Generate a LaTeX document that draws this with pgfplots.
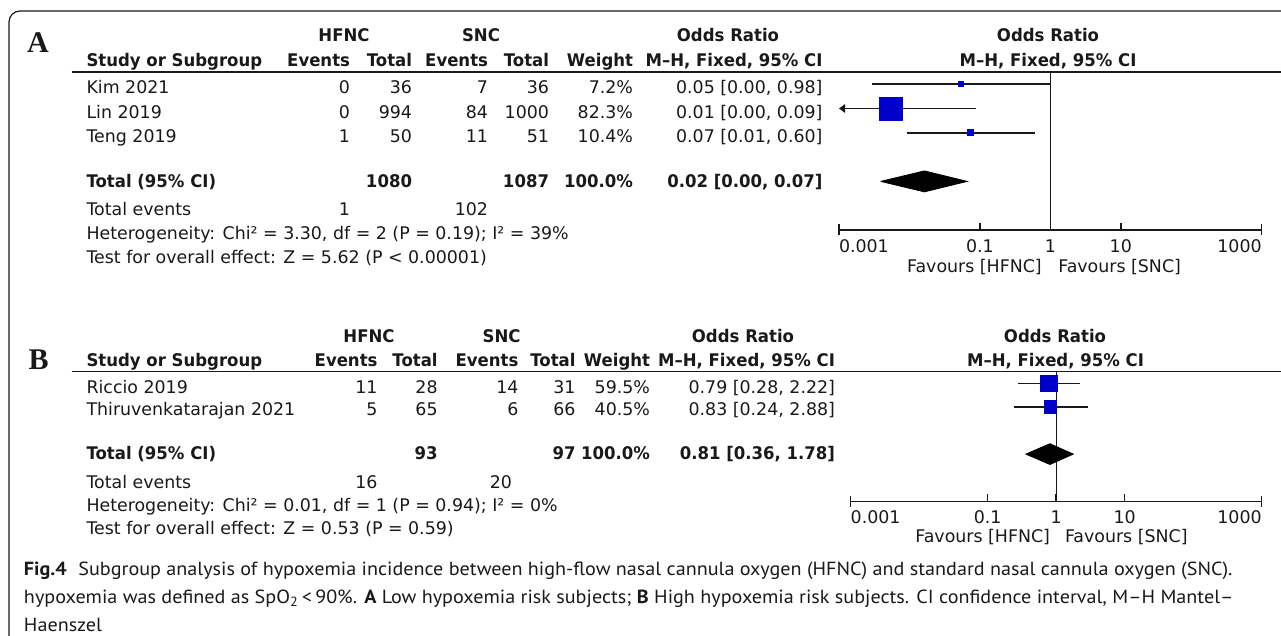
\documentclass[border=0pt]{standalone}
\usepackage{pgfplots}
\pgfplotsset{compat=1.18}
\usetikzlibrary{arrows.meta}
\usepackage{fontspec}
\setmainfont{DejaVu Sans}[BoldFeatures={FakeStretch=0.95}]
\newfontfamily\serifb{Liberation Serif}
\newfontfamily\capfont{PT Sans}[FakeStretch=1.06]
\definecolor{sqblue}{RGB}{0,0,200}
\definecolor{ink}{RGB}{25,25,25}
\newcommand\tf{\fontsize{8.7pt}{10pt}\selectfont}
\newcommand\TL[3]{\node[anchor=base west] at (#1,#2) {#3};}
\newcommand\TR[3]{\node[anchor=base east] at (#1,#2) {#3};}
\newcommand\TC[3]{\node[anchor=base] at (#1,#2) {#3};}
\tikzset{ci/.style={ink, line width=0.75pt},
  sq/.style={only marks, mark=square*, mark options={draw=sqblue, fill=sqblue}}}
\begin{document}
\begin{tikzpicture}[font=\tf, every node/.style={inner sep=0pt, outer sep=0pt}, text=ink]
\path[use as bounding box] (0,0) rectangle (640.5pt,-318pt);
\clip (0,0) rectangle (640.5pt,-318pt);
\begin{scope}[x=0.5pt,y=-0.5pt]
\draw[ink, line width=0.6pt, rounded corners=5.5pt] (9,700) -- (9,11) -- (1300,11);
% ---------- Panel A ----------
\node[anchor=base west, font={\serifb\bfseries\fontsize{15pt}{15pt}\selectfont}] at (27,53) {A};
\TC{344}{41.5}{\bfseries HFNC}
\TC{481}{41.5}{\bfseries SNC}
\TC{728}{41.5}{\bfseries Odds Ratio}
\TC{1048}{41.5}{\bfseries Odds Ratio}
\TL{86.5}{66.3}{\bfseries Study or Subgroup}
\TR{350}{66.3}{\bfseries Events}
\TR{412}{66.3}{\bfseries Total}
\TR{488}{66.3}{\bfseries Events}
\TR{549}{66.3}{\bfseries Total}
\TR{633}{66.3}{\bfseries Weight}
\TR{822.5}{66.3}{\bfseries M–H, Fixed, 95\% CI}
\TC{1048}{66.3}{\bfseries M–H, Fixed, 95\% CI}
\draw[ink, line width=0.75pt] (71.5,72) -- (1300,72);
\TL{86.5}{94}{Kim 2021}\TR{350}{94}{0}\TR{412}{94}{36}\TR{488}{94}{7}\TR{549}{94}{36}\TR{633}{94}{7.2\%}\TR{822.5}{94}{0.05 [0.00, 0.98]}
\TL{86.5}{118.3}{Lin 2019}\TR{350}{118.3}{0}\TR{412}{118.3}{994}\TR{488}{118.3}{84}\TR{549}{118.3}{1000}\TR{633}{118.3}{82.3\%}\TR{822.5}{118.3}{0.01 [0.00, 0.09]}
\TL{86.5}{142.5}{Teng 2019}\TR{350}{142.5}{1}\TR{412}{142.5}{50}\TR{488}{142.5}{11}\TR{549}{142.5}{51}\TR{633}{142.5}{10.4\%}\TR{822.5}{142.5}{0.07 [0.01, 0.60]}
\TL{86.5}{188}{\bfseries Total (95\% CI)}\TR{412}{188}{\bfseries 1080}\TR{549}{188}{\bfseries 1087}\TR{633}{188}{\bfseries 100.0\%}\TR{822.5}{188}{\bfseries 0.02 [0.00, 0.07]}
\TL{86.5}{215.3}{Total events}\TR{350}{215.3}{1}\TR{488}{215.3}{102}
\TL{86.5}{239.5}{Heterogeneity: Chi² = 3.30, df = 2 (P = 0.19); I² = 39\%}
\TL{86.5}{264}{Test for overall effect: Z = 5.62 (P < 0.00001)}
% ---------- Panel B ----------
\node[anchor=base west, font={\serifb\bfseries\fontsize{15pt}{15pt}\selectfont}] at (28.6,370) {B};
\TC{369}{343}{\bfseries HFNC}
\TC{501.6}{343}{\bfseries SNC}
\TC{743}{343}{\bfseries Odds Ratio}
\TC{1055}{343}{\bfseries Odds Ratio}
\TL{86.5}{366.3}{\bfseries Study or Subgroup}
\TR{377.5}{366.3}{\bfseries Events}
\TR{437.6}{366.3}{\bfseries Total}
\TR{518.4}{366.3}{\bfseries Events}
\TR{575.5}{366.3}{\bfseries Total}
\TR{650}{366.3}{\bfseries Weight}
\TR{835}{366.3}{\bfseries M–H, Fixed, 95\% CI}
\TC{1055.5}{366.3}{\bfseries M–H, Fixed, 95\% CI}
\draw[ink, line width=0.75pt] (71.5,371.5) -- (1300,371.5);
\TL{86.5}{393.3}{Riccio 2019}\TR{377.5}{393.3}{11}\TR{437.6}{393.3}{28}\TR{518.4}{393.3}{14}\TR{575.5}{393.3}{31}\TR{650}{393.3}{59.5\%}\TR{835}{393.3}{0.79 [0.28, 2.22]}
\TL{86.5}{415.8}{Thiruvenkatarajan 2021}\TR{377.5}{415.8}{5}\TR{437.6}{415.8}{65}\TR{518.4}{415.8}{6}\TR{575.5}{415.8}{66}\TR{650}{415.8}{40.5\%}\TR{835}{415.8}{0.83 [0.24, 2.88]}
\TL{86.5}{459.3}{\bfseries Total (95\% CI)}\TR{437.6}{459.3}{\bfseries 93}\TR{575.5}{459.3}{\bfseries 97}\TR{650}{459.3}{\bfseries 100.0\%}\TR{835}{459.3}{\bfseries 0.81 [0.36, 1.78]}
\TL{86.5}{488}{Total events}\TR{377.5}{488}{16}\TR{512}{488}{20}
\TL{86.5}{511.3}{Heterogeneity: Chi² = 0.01, df = 1 (P = 0.94); I² = 0\%}
\TL{86.5}{534.6}{Test for overall effect: Z = 0.53 (P = 0.59)}
% ---------- caption ----------
\begin{scope}[font={\capfont\fontsize{9.5pt}{11pt}\selectfont}]
\TL{24}{575}{\textbf{Fig.4}\hspace{5.8pt}Subgroup analysis of hypoxemia incidence between high-flow nasal cannula oxygen (HFNC) and standard nasal cannula oxygen (SNC).}
\TL{24}{603}{hypoxemia was defined as SpO\textsubscript{2}\,<\,90\%. \textbf{A} Low hypoxemia risk subjects; \textbf{B} High hypoxemia risk subjects. CI confidence interval, M–H Mantel–}
\TL{24}{631}{Haenszel}
\end{scope}
\end{scope}
% ---------- forest A ----------
\begin{axis}[at={(419.5pt,-115pt)}, anchor=south west,
  scale only axis, clip=false,
  width=211.35pt, height=78.975pt,
  xmode=log, xmin=0.001, xmax=1000, ymin=-7, ymax=-0.5,
  axis x line*=bottom, axis y line=none, ytick=\empty,
  axis line style={ink, line width=0.75pt},
  xminorticks=false,
  xtick={0.1,1,10}, xticklabels={},
  extra x ticks={0.001,1000}, extra x tick labels={},
  xtick align=inside, major tick length=3.6pt,
  tick style={ink, line width=0.75pt},
  extra x tick style={xtick align=center, major tick length=5.5pt}]
\addplot[ink, line width=0.6pt] coordinates {(1,-0.5) (1,-7)};
\addplot[ci] coordinates {(0.00296,-1) (0.984,-1)};
\addplot[ci, {Triangle[length=3pt,width=4.2pt]}-] coordinates {(0.001,-2) (0.088,-2)};
\addplot[ci] coordinates {(0.00919,-3) (0.5995,-3)};
\addplot[sq, mark size=1.25pt] coordinates {(0.0539,-1)};
\addplot[sq, mark size=5.75pt] coordinates {(0.00545,-2)};
\addplot[sq, mark size=1.5pt] coordinates {(0.0742,-3)};
\addplot[fill=black, draw=black] coordinates {(0.0039,-5) (0.0163,-4.568) (0.066,-5) (0.0163,-5.432) (0.0039,-5)};
\node[anchor=base west, yshift=-11.4pt] at (axis cs:0.001,-7) {0.001};
\node[anchor=base, yshift=-11.4pt] at (axis cs:0.1,-7) {0.1};
\node[anchor=base, yshift=-11.4pt] at (axis cs:1,-7) {1};
\node[anchor=base, yshift=-11.4pt] at (axis cs:10,-7) {10};
\node[anchor=base east, yshift=-11.4pt] at (axis cs:1000,-7) {1000};
\node[anchor=base east, xshift=-4.3pt, yshift=-21.3pt] at (axis cs:1,-7) {Favours [HFNC]};
\node[anchor=base west, xshift=4pt, yshift=-21.3pt] at (axis cs:1,-7) {Favours [SNC]};
\end{axis}
% ---------- forest B ----------
\begin{axis}[at={(425.35pt,-250.65pt)}, anchor=south west,
  scale only axis, clip=false,
  width=205.5pt, height=64.9pt,
  xmode=log, xmin=0.001, xmax=1000, ymin=-6, ymax=-0.5,
  axis x line*=bottom, axis y line=none, ytick=\empty,
  axis line style={ink, line width=0.75pt},
  xminorticks=false,
  xtick={0.1,1,10}, xticklabels={},
  extra x ticks={0.001,1000}, extra x tick labels={},
  xtick align=inside, major tick length=3.6pt,
  tick style={ink, line width=0.75pt},
  extra x tick style={xtick align=center, major tick length=5.5pt}]
\addplot[ink, line width=0.6pt] coordinates {(1,-0.5) (1,-6)};
\addplot[ci] coordinates {(0.28,-1) (2.22,-1)};
\addplot[ci] coordinates {(0.24,-2) (2.88,-2)};
\addplot[sq, mark size=4.15pt] coordinates {(0.79,-1)};
\addplot[sq, mark size=3.1pt] coordinates {(0.83,-2)};
\addplot[fill=black, draw=black] coordinates {(0.36,-4) (0.81,-3.56) (1.78,-4) (0.81,-4.44) (0.36,-4)};
\node[anchor=base west, yshift=-10.85pt] at (axis cs:0.001,-6) {0.001};
\node[anchor=base, yshift=-10.85pt] at (axis cs:0.1,-6) {0.1};
\node[anchor=base, yshift=-10.85pt] at (axis cs:1,-6) {1};
\node[anchor=base, yshift=-10.85pt] at (axis cs:10,-6) {10};
\node[anchor=base east, yshift=-10.85pt] at (axis cs:1000,-6) {1000};
\node[anchor=base east, xshift=-3.1pt, yshift=-20.6pt] at (axis cs:1,-6) {Favours [HFNC]};
\node[anchor=base west, xshift=4.4pt, yshift=-20.6pt] at (axis cs:1,-6) {Favours [SNC]};
\end{axis}
\end{tikzpicture}
\end{document}
